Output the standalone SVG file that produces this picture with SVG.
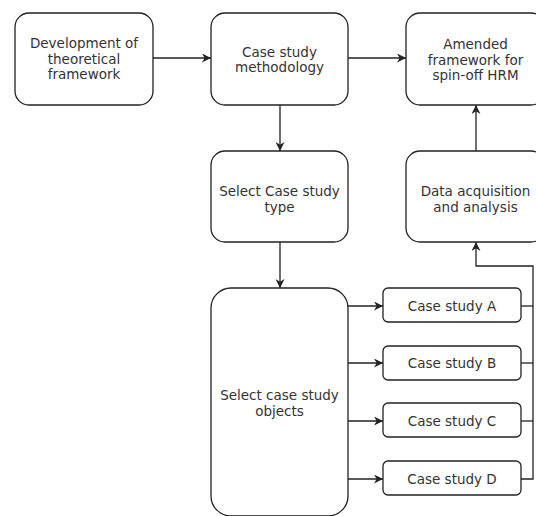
<svg xmlns="http://www.w3.org/2000/svg" width="536" height="516" viewBox="0 0 536 516">
<style>
.n{fill:#fff;stroke:#222;stroke-width:1.3}
.t{font-family:"DejaVu Sans","Liberation Sans",sans-serif;font-size:13.5px;fill:#333;text-anchor:middle}
.c{fill:none;stroke:#222;stroke-width:1.3}
</style>
<defs>
<marker id="a" viewBox="0 0 10 10" refX="10" refY="5" markerWidth="9" markerHeight="9" markerUnits="userSpaceOnUse" orient="auto">
<path d="M0,0 L10,5 L0,10 L3,5 z" fill="#222"/>
</marker>
</defs>
<rect width="536" height="516" fill="#fff"/>
<g id="connectors">
<path class="c" d="M153,58 H211" marker-end="url(#a)"/>
<path class="c" d="M348,58 H406" marker-end="url(#a)"/>
<path class="c" d="M280,105 V151" marker-end="url(#a)"/>
<path class="c" d="M280,242 V288" marker-end="url(#a)"/>
<path class="c" d="M476,151 V105" marker-end="url(#a)"/>
<path class="c" d="M348,306 H383" marker-end="url(#a)"/>
<path class="c" d="M348,363 H383" marker-end="url(#a)"/>
<path class="c" d="M348,421 H383" marker-end="url(#a)"/>
<path class="c" d="M348,479 H383" marker-end="url(#a)"/>
<path class="c" d="M521,306 H533"/>
<path class="c" d="M521,363 H533"/>
<path class="c" d="M521,421 H533"/>
<path class="c" d="M521,479 H533 V266 H476 V242" marker-end="url(#a)"/>
</g>
<g id="dev">
<rect class="n" x="15" y="13" width="138" height="92" rx="14"/>
<text class="t" x="84" y="48">Development of</text>
<text class="t" x="84" y="63.5">theoretical</text>
<text class="t" x="84" y="79">framework</text>
</g>
<g id="method">
<rect class="n" x="211" y="13" width="137" height="92" rx="14"/>
<text class="t" x="279.5" y="56.5">Case study</text>
<text class="t" x="279.5" y="72">methodology</text>
</g>
<g id="amended">
<rect class="n" x="406" y="13" width="139" height="92" rx="14"/>
<text class="t" x="475.5" y="49">Amended</text>
<text class="t" x="475.5" y="64.5">framework for</text>
<text class="t" x="475.5" y="80">spin-off HRM</text>
</g>
<g id="type">
<rect class="n" x="211" y="151" width="137" height="91" rx="14"/>
<text class="t" x="279.5" y="196">Select Case study</text>
<text class="t" x="279.5" y="211.5">type</text>
</g>
<g id="data">
<rect class="n" x="406" y="151" width="139" height="91" rx="14"/>
<text class="t" x="475.5" y="196">Data acquisition</text>
<text class="t" x="475.5" y="211.5">and analysis</text>
</g>
<g id="objects">
<rect class="n" x="211" y="288" width="137" height="228" rx="20"/>
<text class="t" x="279.5" y="400">Select case study</text>
<text class="t" x="279.5" y="415.5">objects</text>
</g>
<g id="caseA">
<rect class="n" x="383" y="288" width="138" height="34" rx="5"/>
<text class="t" x="452" y="311">Case study A</text>
</g>
<g id="caseB">
<rect class="n" x="383" y="346" width="138" height="34" rx="5"/>
<text class="t" x="452" y="368">Case study B</text>
</g>
<g id="caseC">
<rect class="n" x="383" y="403" width="138" height="34" rx="5"/>
<text class="t" x="452" y="426">Case study C</text>
</g>
<g id="caseD">
<rect class="n" x="383" y="461" width="138" height="34" rx="5"/>
<text class="t" x="452" y="484">Case study D</text>
</g>
</svg>
